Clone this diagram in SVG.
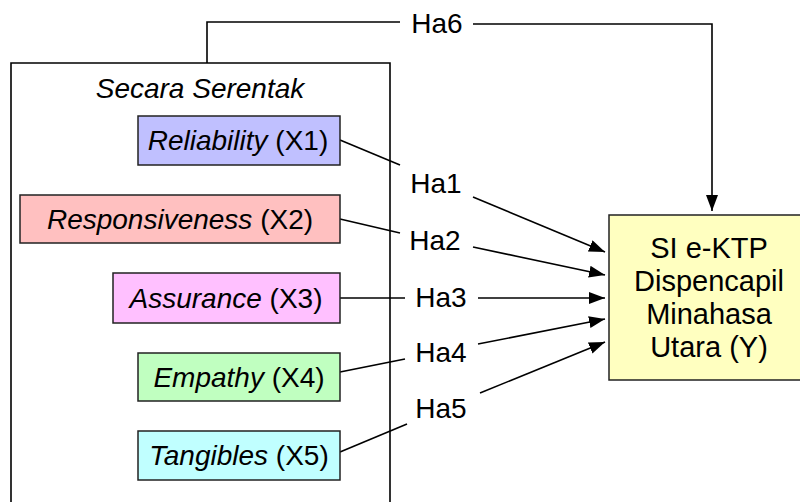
<svg xmlns="http://www.w3.org/2000/svg" width="800" height="502" viewBox="0 0 800 502">
<defs>
<marker id="arr" viewBox="0 0 16 12" refX="16" refY="6" markerWidth="16" markerHeight="12" markerUnits="userSpaceOnUse" orient="auto">
<path d="M0,0 L16,6 L0,12 z" fill="#000"/>
</marker>
</defs>
<style>
text{font-family:"Liberation Sans",Arial,sans-serif;font-size:28px;fill:#000}
.it{font-style:italic}
.yt{font-size:29px}
.box{stroke:#222;stroke-width:1.5}
.ln{fill:none;stroke:#000;stroke-width:1.6}
.ar{fill:none;stroke:#000;stroke-width:1.6;marker-end:url(#arr)}
</style>
<rect width="800" height="502" fill="#fff"/>
<g id="group-frame">
<path class="ln" d="M11,502 V63 H390 V502"/>
<text class="it" x="200" y="98" text-anchor="middle">Secara Serentak</text>
</g>
<g id="connectors">
<path class="ln" d="M207,63 V22 H400"/>
<path class="ar" d="M473,24 H712 V211"/>
<path class="ln" d="M340,140 L400,165"/>
<path class="ar" d="M473,197 L605,252"/>
<path class="ln" d="M340,219 L400,233"/>
<path class="ar" d="M473,247 L605,275"/>
<path class="ln" d="M340,298 L405,298"/>
<path class="ar" d="M478,298 L605,298"/>
<path class="ln" d="M340,372 L405,359"/>
<path class="ar" d="M478,344 L605,319"/>
<path class="ln" d="M340,452 L407,424"/>
<path class="ar" d="M480,393 L605,342"/>
<text x="437" y="33" text-anchor="middle">Ha6</text>
<text x="436" y="193" text-anchor="middle">Ha1</text>
<text x="435" y="250" text-anchor="middle">Ha2</text>
<text x="441" y="307" text-anchor="middle">Ha3</text>
<text x="441" y="362" text-anchor="middle">Ha4</text>
<text x="441" y="418" text-anchor="middle">Ha5</text>
</g>
<g id="x1">
<rect class="box" x="138" y="116" width="202" height="49" fill="#c0c0ff"/>
<text x="238" y="150" text-anchor="middle"><tspan class="it">Reliability</tspan> (X1)</text>
</g>
<g id="x2">
<rect class="box" x="20" y="195" width="320" height="48" fill="#ffc0c0"/>
<text x="180" y="229" text-anchor="middle"><tspan class="it">Responsiveness</tspan> (X2)</text>
</g>
<g id="x3">
<rect class="box" x="113" y="273" width="227" height="50" fill="#ffc0ff"/>
<text x="226" y="308" text-anchor="middle"><tspan class="it">Assurance</tspan> (X3)</text>
</g>
<g id="x4">
<rect class="box" x="138" y="353" width="202" height="48" fill="#c0ffc0"/>
<text x="239" y="387" text-anchor="middle"><tspan class="it">Empathy</tspan> (X4)</text>
</g>
<g id="x5">
<rect class="box" x="138" y="431" width="202" height="49" fill="#c0ffff"/>
<text x="239" y="465" text-anchor="middle"><tspan class="it">Tangibles</tspan> (X5)</text>
</g>
<g id="y">
<rect class="box" x="609" y="215" width="200" height="165" fill="#ffffc0"/>
<text class="yt" x="709" y="258" text-anchor="middle">SI e-KTP</text>
<text class="yt" x="709" y="291" text-anchor="middle">Dispencapil</text>
<text class="yt" x="709" y="324" text-anchor="middle">Minahasa</text>
<text class="yt" x="709" y="357" text-anchor="middle">Utara (Y)</text>
</g>
</svg>
